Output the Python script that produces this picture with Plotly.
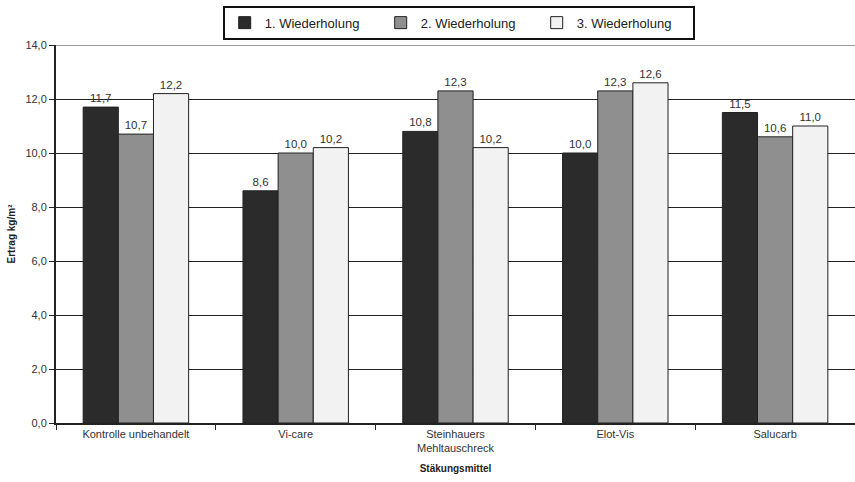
import plotly.graph_objects as go

categories = ["Kontrolle unbehandelt", "Vi-care", "Steinhauers<br>Mehltauschreck", "Elot-Vis", "Salucarb"]
series_names = ["1. Wiederholung", "2. Wiederholung", "3. Wiederholung"]
w1 = [11.7, 8.6, 10.8, 10.0, 11.5]
w2 = [10.7, 10.0, 12.3, 12.3, 10.6]
w3 = [12.2, 10.2, 10.2, 12.6, 11.0]
y_ticks = [0, 2, 4, 6, 8, 10, 12, 14]

colors = ["#2b2b2b", "#8f8f8f", "#f2f2f2"]
font = "Liberation Sans, Arial, sans-serif"

fig = go.Figure()
for name, vals, col in zip(series_names, [w1, w2, w3], colors):
    fig.add_trace(go.Bar(
        x=categories, y=vals, name=name,
        marker=dict(color=col, line=dict(color="#222222", width=1)),
        text=[f"{v:.1f}".replace(".", ",") for v in vals],
        textposition="outside",
        textfont=dict(size=11.5, color="#333333", family=font),
        cliponaxis=False,
    ))

# top border line at the highest tick (grey in the original)
fig.add_shape(type="line", xref="paper", yref="y", x0=0, x1=1,
              y0=y_ticks[-1], y1=y_ticks[-1], line=dict(color="#999999", width=2), layer="above")

fig.update_layout(
    width=855, height=482,
    margin=dict(l=56, r=0, t=45, b=59),
    paper_bgcolor="white", plot_bgcolor="white",
    barmode="group", bargap=0.34, bargroupgap=0,
    separators=",.",
    font=dict(family=font, size=11, color="#222222"),
    legend=dict(
        orientation="h", x=0.504, xanchor="center", y=1.104, yanchor="top",
        bordercolor="#111111", borderwidth=2, bgcolor="white",
        font=dict(size=13, color="#222222"),
        entrywidth=111, entrywidthmode="pixels",
        itemwidth=30, tracegroupgap=0,
    ),
    xaxis=dict(
        showline=True, linecolor="#222222", linewidth=1.5,
        ticks="outside", tickson="boundaries", ticklen=5, tickcolor="#222222",
        tickfont=dict(size=11, color="#333333"),
        title=dict(text="<b>Stäkungsmittel</b>", font=dict(size=10, color="#222222"), standoff=12),
    ),
    yaxis=dict(
        range=[0, 14], tickvals=y_ticks, tickformat=".1f",
        showline=True, linecolor="#222222", linewidth=2,
        ticks="outside", ticklen=5, tickcolor="#222222",
        showgrid=True, gridcolor="#222222", gridwidth=1,
        zeroline=False,
        tickfont=dict(size=11, color="#333333"),
        title=dict(text="<b>Ertrag kg/m²</b>", font=dict(size=10, color="#222222"), standoff=8),
    ),
)

fig.write_html("out.html")
